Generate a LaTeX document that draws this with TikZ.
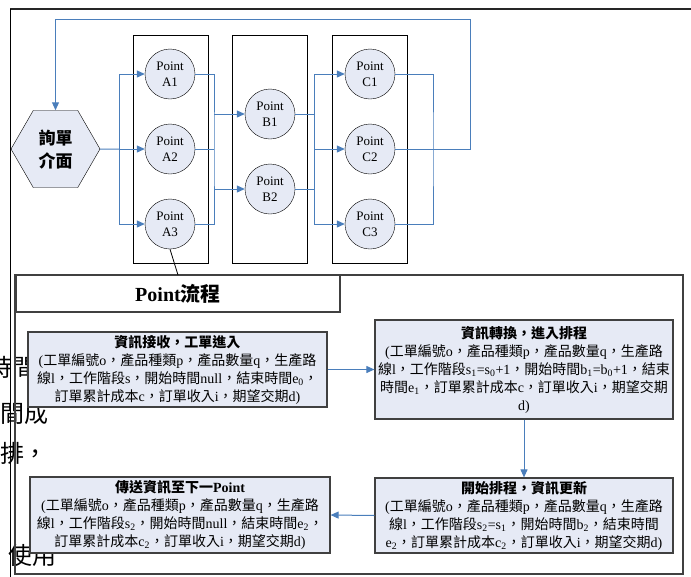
\documentclass[tikz,border=0pt]{standalone}
\usepackage{fontspec}
\setmainfont{Liberation Serif}
\newfontfamily\cjk{Noto Sans CJK TC}
\usetikzlibrary{shapes.geometric,arrows.meta,calc}
\definecolor{flowblue}{HTML}{4A7EBB}
\definecolor{nodefill}{HTML}{E6EAF5}
\definecolor{edgegray}{HTML}{404040}
\newcommand\lt[1]{{\rmfamily #1}}
\begin{document}
\begin{tikzpicture}[x=1pt,y=-1pt,
  flow/.style={draw=flowblue,line width=1pt},
  arr/.style={flow,-{Triangle[length=8pt,width=7pt]}},
  pnode/.style={circle,draw=black,fill=nodefill,minimum size=50pt,inner sep=0pt,align=center,font=\fontsize{13}{16}\selectfont},
  colbox/.style={draw=black,line width=0.8pt,minimum width=75pt,minimum height=228pt,inner sep=0pt},
  infobox/.style={draw=edgegray,line width=1.2pt,fill=nodefill,align=center,inner sep=0pt,font=\cjk\fontsize{14}{18}\selectfont},
  hexa/.style={regular polygon,regular polygon sides=6,minimum size=89pt,inner sep=0pt,draw=black,fill=nodefill,align=center,font=\cjk\bfseries\fontsize{17}{23}\selectfont},
  bgtext/.style={font=\cjk\fontsize{24}{24}\selectfont,inner sep=0pt}]
\useasboundingbox (0,0) rectangle (691,576);
\clip (0,0) rectangle (691,576);

% stray background text
\node[bgtext] (bg1) at (13,367) {時間};
\node[bgtext] (bg2) at (25,413) {間成};
\node[bgtext] (bg3) at (24,453) {排，};
\node[bgtext] (bg4) at (33,555) {使用};

% frames
\draw[line width=1.5pt,black!85] (10,9) -- (700,9);
\draw[line width=1pt] (10,9) -- (10,590);
\draw[line width=1.2pt,edgegray] (15,275) rectangle (683,574);

% columns
\node[colbox] (colA) at (170.5,149) {};
\node[colbox] (colB) at (269.5,149) {};
\node[colbox] (colC) at (369.5,149) {};

% nodes
\node[hexa] (hex) at (55.5,149) {詢單\\介面};
\node[pnode] (A1) at (170,74) {Point\\A1};
\node[pnode] (A2) at (170,149) {Point\\A2};
\node[pnode] (A3) at (170,224) {Point\\A3};
\node[pnode] (B1) at (270,114) {Point\\B1};
\node[pnode] (B2) at (270,189) {Point\\B2};
\node[pnode] (C1) at (370,74) {Point\\C1};
\node[pnode] (C2) at (370,149) {Point\\C2};
\node[pnode] (C3) at (370,224) {Point\\C3};

% connectors
\coordinate (jh) at (119,149);
\coordinate (ja) at (214,149);
\coordinate (jb) at (314,149);
\coordinate (jc) at (433,149);
\coordinate (fb) at (470,19);
\draw[flow] (hex.east) -- (jh);
\draw[arr] (jh) |- (A1.west);
\draw[arr] (jh) -- (A2.west);
\draw[arr] (jh) |- (A3.west);
\draw[flow] (A1.east) -| (ja) |- (A3.east);
\draw[flow] (A2.east) -- (ja);
\draw[arr] (ja |- B1.west) -- (B1.west);
\draw[arr] (ja |- B2.west) -- (B2.west);
\draw[flow] (B1.east) -- (jb |- B1.east);
\draw[flow] (B2.east) -- (jb |- B2.east);
\draw[arr] (jb) |- (C1.west);
\draw[arr] (jb) -- (C2.west);
\draw[arr] (jb) |- (C3.west);
\draw[flow] (C1.east) -| (jc) |- (C3.east);
\draw[arr] (C2.east) -| (fb) -| (hex.north);

% Point flow header
\node[draw=edgegray,line width=1.2pt,minimum width=324pt,minimum height=37pt,inner sep=0pt,font=\cjk\bfseries\fontsize{20}{24}\selectfont] (pflow) at (178,293.5) {\lt{Point}流程};
\coordinate (pfa) at (178,275);
\draw[line width=0.8pt] (A3.south) -- (pfa);

% info boxes
\node[infobox,minimum width=299pt,minimum height=75pt] (b1) at (177.5,369.5) {%
{\bfseries 資訊接收，工單進入}\\
\lt{(}工單編號\lt{o}，產品種類\lt{p}，產品數量\lt{q}，生產路\\
線\lt{l}，工作階段\lt{s}，開始時間\lt{null}，結束時間\lt{e\textsubscript{0}}，\\
訂單累計成本\lt{c}，訂單收入\lt{i}，期望交期\lt{d)}};

\node[infobox,minimum width=298pt,minimum height=99pt] (b2) at (524,369.5) {%
{\bfseries 資訊轉換，進入排程}\\
\lt{(}工單編號\lt{o}，產品種類\lt{p}，產品數量\lt{q}，生產路\\
線\lt{l}，工作階段\lt{s\textsubscript{1}=s\textsubscript{0}+1}，開始時間\lt{b\textsubscript{1}=b\textsubscript{0}+1}，結束\\
時間\lt{e\textsubscript{1}}，訂單累計成本\lt{c}，訂單收入\lt{i}，期望交期\\
\lt{d)}};

\node[infobox,minimum width=298pt,minimum height=75pt] (b3) at (524,515.5) {%
{\bfseries 開始排程，資訊更新}\\
\lt{(}工單編號\lt{o}，產品種類\lt{p}，產品數量\lt{q}，生產路\\
線\lt{l}，工作階段\lt{s\textsubscript{2}=s\textsubscript{1}}，開始時間\lt{b\textsubscript{2}}，結束時間\\
\lt{e\textsubscript{2}}，訂單累計成本\lt{c\textsubscript{2}}，訂單收入\lt{i}，期望交期\lt{d)}};

\node[infobox,minimum width=300pt,minimum height=76pt] (b4) at (180,515) {%
{\bfseries 傳送資訊至下一\lt{Point}}\\
\lt{(}工單編號\lt{o}，產品種類\lt{p}，產品數量\lt{q}，生產路\\
線\lt{l}，工作階段\lt{s\textsubscript{2}}，開始時間\lt{null}，結束時間\lt{e\textsubscript{2}}，\\
訂單累計成本\lt{c\textsubscript{2}}，訂單收入\lt{i}，期望交期\lt{d)}};

\draw[arr] (b1.east) -- (b2.west);
\draw[arr] (b2.south) -- (b3.north);
\draw[arr] (b3.west) -- (b4.east);
\end{tikzpicture}
\end{document}
